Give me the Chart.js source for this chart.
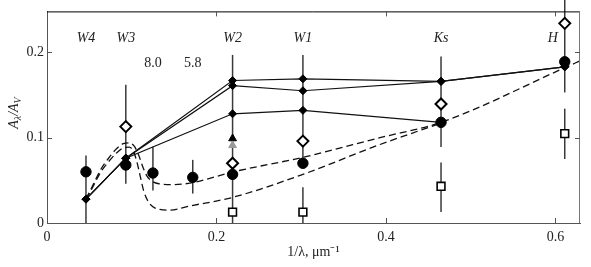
<!DOCTYPE html>
<html>
<head>
<meta charset="utf-8">
<script src="https://cdn.jsdelivr.net/npm/chart.js@4"></script>
<style>
  html, body { margin: 0; padding: 0; background: #fff; }
  #wrap { width: 591px; height: 267px; }
</style>
</head>
<body>
<div id="wrap"><canvas id="chart" width="591" height="267"></canvas></div>
<script>
// Extinction curve A_lambda/A_V vs 1/lambda

// axis ranges and tick steps
const X_MIN = 0, X_MAX = 0.629, X_STEP = 0.2;
const Y_MIN = 0, Y_MAX = 0.248, Y_STEP = 0.1;

// band names and where they sit on the x axis
const bandNames = ['W4', 'W3', 'W2', 'W1', 'Ks', 'H'];
const bandX = [0.046, 0.093, 0.219, 0.302, 0.465, 0.597];
const bandLabelY = 0.216;
const wlNames = ['8.0', '5.8'];
const wlX = [0.125, 0.172];
const wlLabelY = 0.187;

// filled circles
const circleX = [0.046, 0.093, 0.125, 0.172, 0.219, 0.302, 0.465, 0.611];
const circleY = [0.060, 0.068, 0.0586, 0.0535, 0.057, 0.070, 0.118, 0.189];

// open diamonds
const openDiamondX = [0.093, 0.219, 0.302, 0.465, 0.611];
const openDiamondY = [0.113, 0.070, 0.096, 0.1395, 0.234];

// open squares
const squareX = [0.219, 0.302, 0.465, 0.611];
const squareY = [0.0128, 0.0128, 0.043, 0.1047];

// triangles at W2
const triBlack = { x: 0.219, y: 0.099 };
const triGray = { x: 0.219, y: 0.091 };

// solid model lines (filled diamonds)
const modelX = [0.046, 0.093, 0.219, 0.302, 0.465, 0.611];
const model1Y = [0.028, 0.076, 0.167, 0.169, 0.166, 0.183];
const model2Y = [0.028, 0.076, 0.161, 0.155, 0.166, 0.183];
const model3X = [0.046, 0.093, 0.219, 0.302, 0.465];
const model3Y = [0.028, 0.076, 0.128, 0.132, 0.118];

// dashed curves
const dashAX = [0.046, 0.055, 0.063, 0.072, 0.082, 0.090, 0.097, 0.103, 0.108, 0.113, 0.118, 0.124, 0.132, 0.150, 0.170, 0.220, 0.302, 0.393, 0.465, 0.611, 0.629];
const dashAY = [0.028, 0.046, 0.062, 0.075, 0.087, 0.093, 0.094, 0.090, 0.080, 0.066, 0.055, 0.049, 0.046, 0.045, 0.047, 0.060, 0.077, 0.100, 0.118, 0.182, 0.190];
const dashBX = [0.046, 0.055, 0.063, 0.072, 0.082, 0.090, 0.097, 0.102, 0.106, 0.110, 0.114, 0.119, 0.125, 0.133, 0.145, 0.169, 0.219, 0.302, 0.393, 0.465];
const dashBY = [0.028, 0.044, 0.059, 0.071, 0.082, 0.088, 0.089, 0.084, 0.072, 0.055, 0.038, 0.026, 0.019, 0.016, 0.015, 0.020, 0.030, 0.057, 0.092, 0.117];

// error bars: x, low, high
const errBars = [
  [0.046, 0.0, 0.079],
  [0.093, 0.046, 0.162],
  [0.125, 0.038, 0.0895],
  [0.172, 0.0345, 0.074],
  [0.219, 0.0, 0.197],
  [0.302, 0.065, 0.197],
  [0.302, 0.0, 0.042],
  [0.465, 0.089, 0.195],
  [0.465, 0.0128, 0.071],
  [0.611, 0.153, 0.262],
  [0.611, 0.075, 0.134]
];

const SERIF = '"Liberation Serif", "Times New Roman", serif';

function pts(xs, ys) {
  return xs.map((x, i) => ({ x, y: ys[i] }));
}

// error bars under the markers
const errorBarPlugin = {
  id: 'errorBars',
  beforeDatasetsDraw(chart) {
    const { ctx, scales: { x, y } } = chart;
    ctx.save();
    ctx.strokeStyle = '#3a3a3a';
    ctx.lineWidth = 1.5;
    errBars.forEach(([bx, lo, hi]) => {
      const px = x.getPixelForValue(bx);
      ctx.beginPath();
      ctx.moveTo(px, y.getPixelForValue(lo));
      ctx.lineTo(px, y.getPixelForValue(hi));
      ctx.stroke();
    });
    ctx.restore();
  }
};

// frame, inward ticks, labels, y title
const framePlugin = {
  id: 'frame',
  afterDraw(chart) {
    const { ctx, chartArea: a, scales: { x, y } } = chart;
    ctx.save();
    ctx.lineWidth = 1;
    ctx.strokeStyle = '#000';
    ctx.beginPath();
    ctx.moveTo(a.left, a.top + 0.5);
    ctx.lineTo(a.right, a.top + 0.5);
    ctx.stroke();
    ctx.strokeStyle = '#777';
    ctx.beginPath();
    ctx.moveTo(a.right - 0.5, a.top);
    ctx.lineTo(a.right - 0.5, a.bottom);
    ctx.stroke();

    ctx.strokeStyle = '#555';
    const tl = 5;
    x.ticks.forEach(t => {
      if (t.value === 0) return;
      const px = Math.round(x.getPixelForValue(t.value)) + 0.5;
      ctx.beginPath();
      ctx.moveTo(px, a.bottom); ctx.lineTo(px, a.bottom - tl);
      ctx.moveTo(px, a.top); ctx.lineTo(px, a.top + tl);
      ctx.stroke();
    });
    y.ticks.forEach(t => {
      if (t.value === 0) return;
      const py = Math.round(y.getPixelForValue(t.value)) + 0.5;
      ctx.beginPath();
      ctx.moveTo(a.left, py); ctx.lineTo(a.left + tl, py);
      ctx.moveTo(a.right, py); ctx.lineTo(a.right - tl, py);
      ctx.stroke();
    });

    // band labels
    ctx.fillStyle = '#222';
    ctx.textAlign = 'center';
    ctx.textBaseline = 'middle';
    ctx.font = 'italic 14px ' + SERIF;
    bandNames.forEach((n, i) => {
      ctx.fillText(n, x.getPixelForValue(bandX[i]), y.getPixelForValue(bandLabelY));
    });
    ctx.font = '14px ' + SERIF;
    wlNames.forEach((n, i) => {
      ctx.fillText(n, x.getPixelForValue(wlX[i]), y.getPixelForValue(wlLabelY));
    });

    // y title A_lambda / A_V
    const big = 'italic 14px ' + SERIF, small = 'italic 10px ' + SERIF;
    const parts = [['A', big, 0], ['\u03bb', small, 3], ['/A', big, 0], ['V', small, 3]];
    let w = 0;
    parts.forEach(p => { ctx.font = p[1]; w += ctx.measureText(p[0]).width; });
    ctx.translate(13, 113);
    ctx.rotate(-Math.PI / 2);
    ctx.textAlign = 'left';
    ctx.textBaseline = 'alphabetic';
    let cx = -w / 2;
    parts.forEach(p => {
      ctx.font = p[1];
      ctx.fillText(p[0], cx, 5 + p[2]);
      cx += ctx.measureText(p[0]).width;
    });
    ctx.restore();
  }
};

const lineStyle = {
  showLine: true,
  borderColor: '#111',
  borderWidth: 1.2,
  pointStyle: 'rectRot',
  pointRadius: 4,
  pointBackgroundColor: '#000',
  pointBorderColor: '#000',
  pointBorderWidth: 1,
  order: 5
};

const dashStyle = {
  showLine: true,
  borderColor: '#111',
  borderWidth: 1.3,
  borderDash: [7, 4],
  pointRadius: 0,
  cubicInterpolationMode: 'monotone',
  order: 6
};

new Chart(document.getElementById('chart'), {
  type: 'scatter',
  data: {
    datasets: [
      { ...lineStyle, data: pts(modelX, model1Y) },
      { ...lineStyle, data: pts(modelX, model2Y) },
      { ...lineStyle, data: pts(model3X, model3Y) },
      { ...dashStyle, data: pts(dashAX, dashAY) },
      { ...dashStyle, data: pts(dashBX, dashBY) },
      {
        data: pts(circleX, circleY), pointStyle: 'circle', pointRadius: 5.2,
        pointBackgroundColor: '#000', pointBorderColor: '#000', order: 1
      },
      {
        data: pts(openDiamondX, openDiamondY), pointStyle: 'rectRot', pointRadius: 5.5,
        pointBackgroundColor: '#fff', pointBorderColor: '#000', pointBorderWidth: 2, order: 1
      },
      {
        data: pts(squareX, squareY), pointStyle: 'rect', pointRadius: 5.5,
        pointBackgroundColor: '#fff', pointBorderColor: '#000', pointBorderWidth: 1.6, order: 1
      },
      {
        data: [triGray], pointStyle: 'triangle', pointRadius: 4.5,
        pointBackgroundColor: '#999', pointBorderColor: '#999', order: 1
      },
      {
        data: [triBlack], pointStyle: 'triangle', pointRadius: 4.5,
        pointBackgroundColor: '#000', pointBorderColor: '#000', order: 2
      }
    ]
  },
  options: {
    responsive: false,
    animation: false,
    devicePixelRatio: 1,
    layout: { padding: { top: 9, right: 11, left: 0, bottom: 0 } },
    plugins: { legend: { display: false }, tooltip: { enabled: false } },
    scales: {
      x: {
        type: 'linear', min: X_MIN, max: X_MAX,
        grid: { display: false, drawTicks: false },
        border: { display: true, color: '#555', width: 1 },
        ticks: {
          stepSize: X_STEP, includeBounds: false, padding: 6, color: '#222',
          autoSkip: false, maxRotation: 0,
          font: { family: SERIF, size: 14 },
          callback: v => v === 0 ? '0' : v.toFixed(1)
        },
        title: {
          display: true, text: '1/\u03bb, \u03bcm\u207b\u00b9', color: '#222',
          font: { family: SERIF, size: 14 }, padding: { top: 2, bottom: 6 }
        },
        afterFit: s => { s.height = 44; }
      },
      y: {
        min: Y_MIN, max: Y_MAX,
        grid: { display: false, drawTicks: false },
        border: { display: true, color: '#555', width: 1 },
        ticks: {
          stepSize: Y_STEP, includeBounds: false, padding: 3, color: '#222',
          font: { family: SERIF, size: 14 },
          callback: v => v === 0 ? '0' : v.toFixed(1)
        },
        afterFit: s => { s.width = 47; }
      }
    }
  },
  plugins: [errorBarPlugin, framePlugin]
});
</script>
</body>
</html>
